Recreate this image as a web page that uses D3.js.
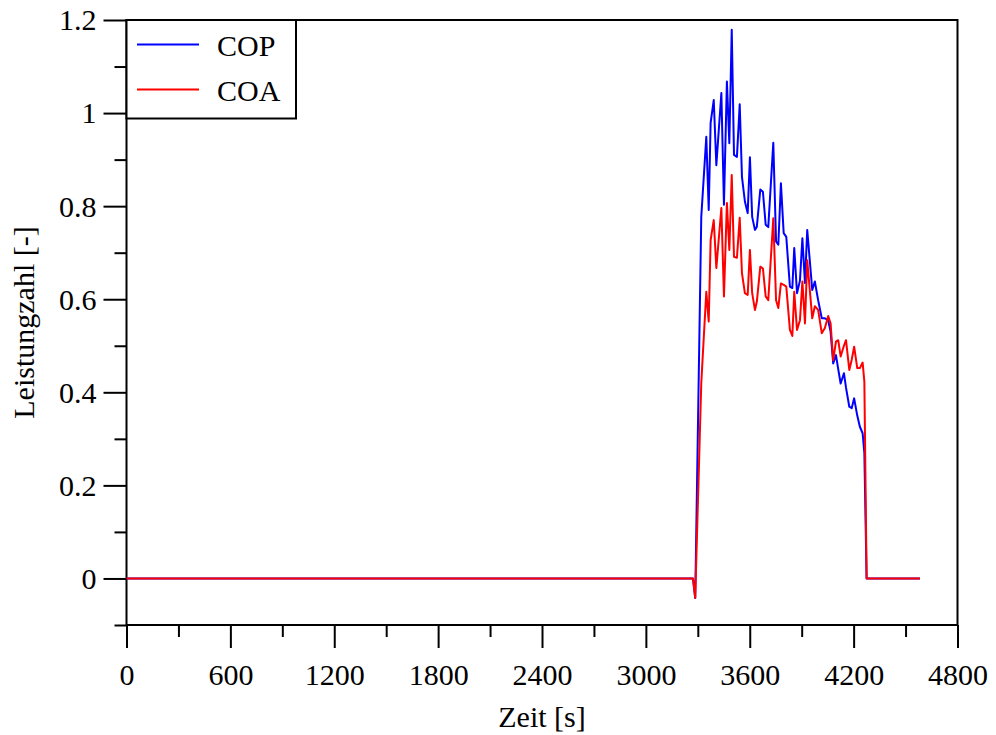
<!DOCTYPE html>
<html>
<head>
<meta charset="utf-8">
<script src="https://cdn.jsdelivr.net/npm/d3@7"></script>
<style>
  body { margin: 0; background: #fff; }
  text { font-family: "Liberation Serif", "Times New Roman", serif; }
</style>
</head>
<body>
<svg id="chart" width="996" height="735"></svg>
<script>
// time [s] of each sample
let zeit = [0, 3272, 3285, 3320, 3349, 3363, 3374, 3392, 3407, 3436, 3451, 3468, 3482, 3496,
    3509, 3526, 3542, 3555, 3572, 3588, 3601, 3614, 3630, 3641, 3661, 3676, 3692, 3707,
    3736, 3752, 3765, 3780, 3796, 3811, 3832, 3846, 3857, 3873, 3890, 3904, 3919, 3932,
    3961, 3976, 3995, 4016, 4034, 4053, 4067, 4082, 4098, 4111, 4125, 4144, 4156, 4175,
    4189, 4203, 4221, 4236, 4252, 4262, 4275, 4583];

let cop = [0, 0, -0.042, 0.777, 0.949, 0.792, 0.979, 1.028, 0.888, 1.043, 0.803, 1.068, 0.935, 1.179,
    0.910, 0.906, 1.019, 0.863, 0.81, 0.785, 0.905, 0.777, 0.749, 0.756, 0.836, 0.831, 0.760, 0.755,
    0.936, 0.724, 0.717, 0.849, 0.742, 0.734, 0.627, 0.624, 0.710, 0.613, 0.64, 0.731, 0.635, 0.749,
    0.620, 0.638, 0.598, 0.559, 0.559, 0.555, 0.53, 0.462, 0.480, 0.45, 0.419, 0.441, 0.41, 0.369,
    0.366, 0.387, 0.35, 0.326, 0.312, 0.27, 0, 0];

let coa = [0, 0, -0.042, 0.42, 0.616, 0.552, 0.727, 0.770, 0.667, 0.796, 0.606, 0.807, 0.706, 0.867,
    0.691, 0.689, 0.775, 0.656, 0.613, 0.609, 0.706, 0.613, 0.577, 0.595, 0.670, 0.666, 0.606, 0.598,
    0.774, 0.598, 0.581, 0.634, 0.631, 0.627, 0.534, 0.521, 0.616, 0.534, 0.555, 0.638, 0.548, 0.684,
    0.559, 0.585, 0.577, 0.527, 0.538, 0.564, 0.548, 0.469, 0.509, 0.512, 0.477, 0.50, 0.512, 0.448,
    0.47, 0.498, 0.452, 0.452, 0.464, 0.423, 0, 0];

let xTicks = [0, 600, 1200, 1800, 2400, 3000, 3600, 4200, 4800];
let yTicks = [0, 0.2, 0.4, 0.6, 0.8, 1, 1.2];
let yTickLabels = ["0", "0.2", "0.4", "0.6", "0.8", "1", "1.2"];

let serien = [
    {name: "COP", werte: cop, farbe: "#0000ff"},
    {name: "COA", werte: coa, farbe: "#ff0000"}
];

let plot = {left: 126.5, right: 957.5, top: 20, bottom: 625};

let svg = d3.select("#chart");

let x = d3.scaleLinear().domain([0, 4800]).range([plot.left, plot.right]);
let y = d3.scaleLinear().domain([-0.1, 1.2]).range([plot.bottom, plot.top]);

// minor ticks
svg.append("g")
    .attr("transform", `translate(0, ${plot.bottom})`)
    .call(d3.axisBottom(x).tickValues(d3.range(300, 4800, 600)).tickSize(12).tickFormat(""))
    .call(g => g.select(".domain").remove());

svg.append("g")
    .attr("transform", `translate(${plot.left}, 0)`)
    .call(d3.axisLeft(y).tickValues([-0.1, 0.1, 0.3, 0.5, 0.7, 0.9, 1.1]).tickSize(12).tickFormat(""))
    .call(g => g.select(".domain").remove());

// major ticks
let xAxis = svg.append("g")
    .attr("transform", `translate(0, ${plot.bottom})`)
    .call(d3.axisBottom(x).tickValues(xTicks).tickSize(23).tickFormat(d3.format("d")))
    .call(g => g.select(".domain").remove());

xAxis.selectAll("text")
    .attr("y", 60)
    .attr("dy", null)
    .style("font-size", "30px")
    .style("fill", "#000");

let yAxis = svg.append("g")
    .attr("transform", `translate(${plot.left}, 0)`)
    .call(d3.axisLeft(y).tickValues(yTicks).tickSize(23).tickFormat((d, i) => yTickLabels[i]))
    .call(g => g.select(".domain").remove());

yAxis.selectAll("text")
    .attr("x", -30)
    .attr("dy", "0.33em")
    .style("font-size", "30px")
    .style("fill", "#000");

svg.selectAll(".tick line")
    .style("stroke", "#000")
    .style("stroke-width", "2px");

// frame
svg.append("rect")
    .attr("x", plot.left)
    .attr("y", plot.top)
    .attr("width", plot.right - plot.left)
    .attr("height", plot.bottom - plot.top)
    .style("fill", "none")
    .style("stroke", "#000")
    .style("stroke-width", "2px");

let line = d3.line()
    .x((d, i) => x(zeit[i]))
    .y(d => y(d));

svg.selectAll(".serie")
    .data(serien)
    .join("path")
    .attr("class", "serie")
    .attr("d", d => line(d.werte))
    .style("fill", "none")
    .style("stroke", d => d.farbe)
    .style("stroke-width", "2px")
    .style("stroke-linejoin", "round");

// legend
svg.append("rect")
    .attr("x", plot.left)
    .attr("y", plot.top)
    .attr("width", 296 - plot.left)
    .attr("height", 118.5 - plot.top)
    .style("fill", "#fff")
    .style("stroke", "#000")
    .style("stroke-width", "2px");

let legend = svg.selectAll(".legende")
    .data(serien)
    .join("g")
    .attr("class", "legende")
    .attr("transform", (d, i) => `translate(0, ${44.5 + i * 45})`);

legend.append("line")
    .attr("x1", 137)
    .attr("x2", 199)
    .style("stroke", d => d.farbe)
    .style("stroke-width", "2px");

legend.append("text")
    .attr("x", 217)
    .attr("y", 11)
    .style("font-size", "30px")
    .text(d => d.name);

// axis titles
svg.append("text")
    .attr("x", (plot.left + plot.right) / 2)
    .attr("y", 727)
    .attr("text-anchor", "middle")
    .style("font-size", "30px")
    .text("Zeit [s]");

svg.append("text")
    .attr("transform", `translate(34, ${(plot.top + plot.bottom) / 2}) rotate(-90)`)
    .attr("text-anchor", "middle")
    .style("font-size", "30px")
    .text("Leistungzahl [-]");
</script>
</body>
</html>
